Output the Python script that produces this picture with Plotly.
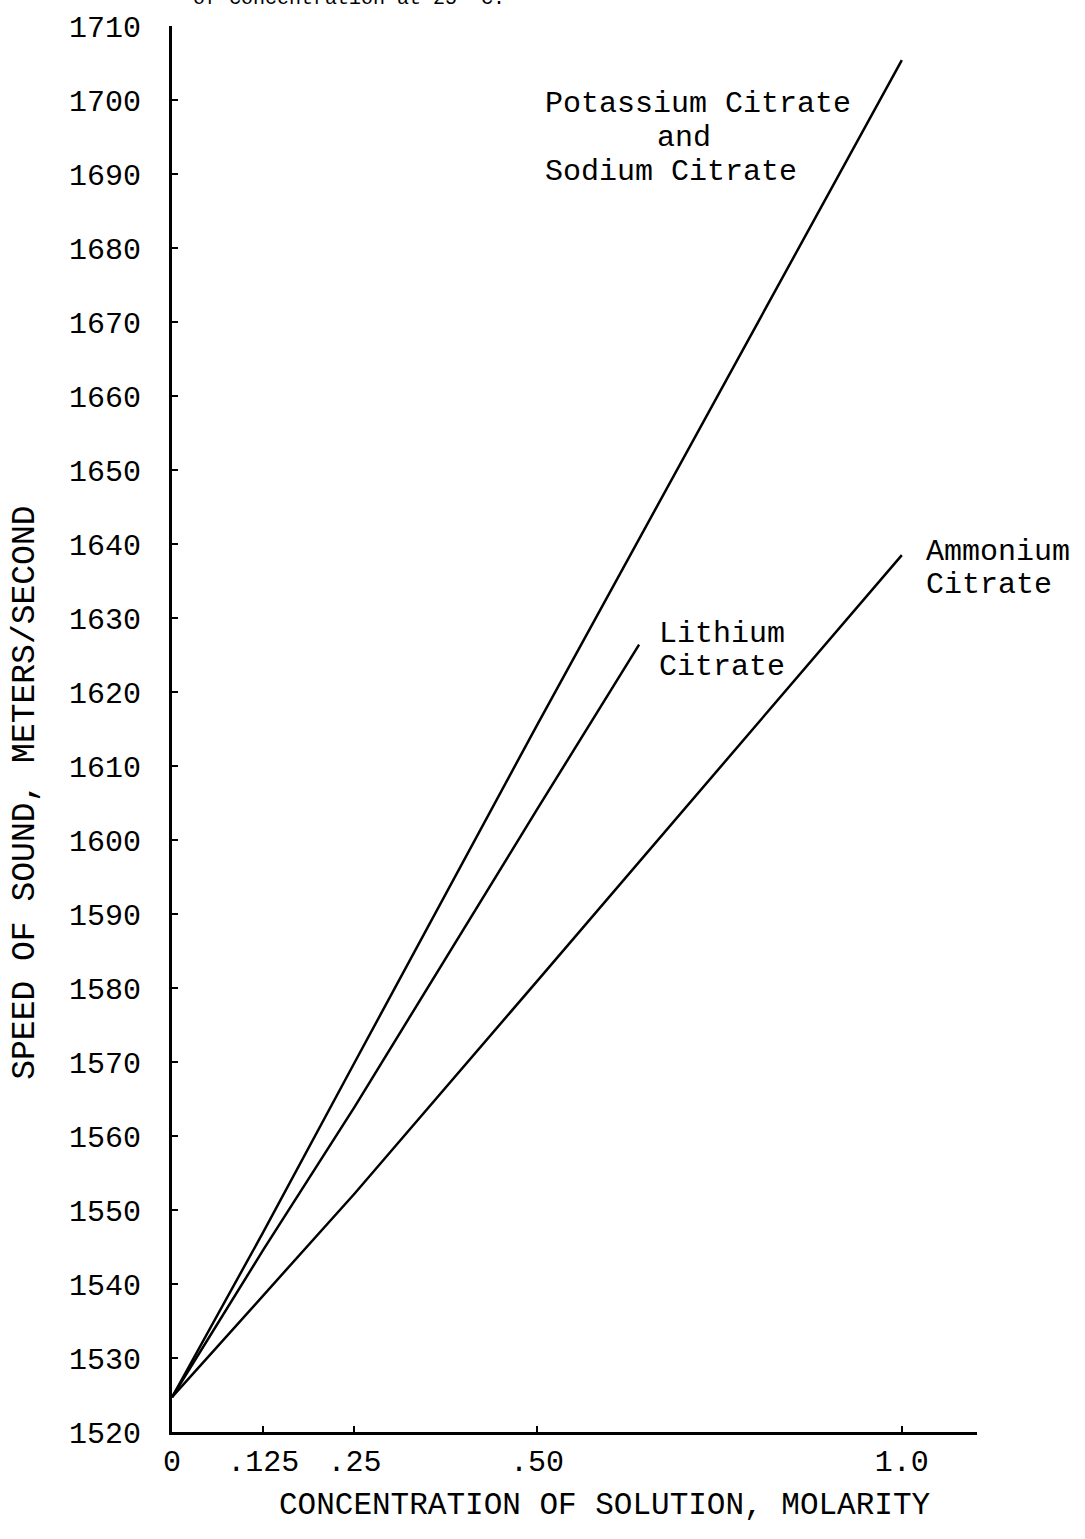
import plotly.graph_objects as go

# Measured concentrations (molarity) and speed of sound (m/s)
conc_k_na = [0, 0.125, 0.25, 0.50, 1.0]
speed_k_na = [1524.7, 1547.0, 1569.9, 1615.5, 1705.4]

conc_li = [0, 0.125, 0.25, 0.50, 0.64]
speed_li = [1524.7, 1544.6, 1563.9, 1604.1, 1626.4]

conc_nh4 = [0, 0.125, 0.25, 0.50, 1.0]
speed_nh4 = [1524.7, 1538.4, 1552.2, 1580.9, 1638.5]

x_tickvals = [0, 0.125, 0.25, 0.50, 1.0]
x_ticktext = ["0", ".125", ".25", ".50", "1.0"]
y_tickvals = list(range(1520, 1711, 10))

FONT = "Liberation Mono, Courier New, monospace"
line_style = dict(color="black", width=2.5)

fig = go.Figure()
for xs, ys, name in [
    (conc_k_na, speed_k_na, "Potassium Citrate and Sodium Citrate"),
    (conc_li, speed_li, "Lithium Citrate"),
    (conc_nh4, speed_nh4, "Ammonium Citrate"),
]:
    fig.add_trace(go.Scatter(x=xs, y=ys, mode="lines", line=line_style,
                             name=name, showlegend=False))

label_font = dict(family=FONT, size=30, color="black")
annotations = [
    dict(x=0.509, y=1699.4, text="Potassium Citrate", xanchor="left"),
    dict(x=0.701, y=1694.8, text="and", xanchor="center"),
    dict(x=0.509, y=1690.3, text="Sodium Citrate", xanchor="left"),
    dict(x=0.664, y=1627.9, text="Lithium", xanchor="left"),
    dict(x=0.664, y=1623.4, text="Citrate", xanchor="left"),
    dict(x=1.031, y=1638.9, text="Ammonium", xanchor="left"),
    dict(x=1.031, y=1634.4, text="Citrate", xanchor="left"),
]
for a in annotations:
    fig.add_annotation(xref="x", yref="y", showarrow=False, yanchor="middle",
                       font=label_font, **a)

# axis titles placed as free text
fig.add_annotation(xref="paper", yref="paper", x=-0.182, y=0.455,
                   xanchor="center", yanchor="middle", showarrow=False,
                   textangle=-90, text="SPEED OF SOUND, METERS/SECOND",
                   font=dict(family=FONT, size=33, color="black"))
fig.add_annotation(xref="paper", yref="paper", x=0.538, y=-0.052,
                   xanchor="center", yanchor="middle", showarrow=False,
                   text="CONCENTRATION OF SOLUTION, MOLARITY",
                   font=dict(family=FONT, size=31, color="black"))

# caption line running off the top edge of the page
fig.add_annotation(xref="paper", yref="paper", x=0.22, y=1.0, yshift=14,
                   xanchor="center", yanchor="bottom", showarrow=False,
                   text="of Concentration at 25° C.",
                   font=dict(family=FONT, size=20, color="black"))

fig.update_layout(
    width=1085, height=1539,
    margin=dict(l=172, r=108, t=26, b=107),
    paper_bgcolor="white", plot_bgcolor="white",
    font=dict(family=FONT, size=30, color="black"),
    xaxis=dict(
        range=[0, 1.103], tickvals=x_tickvals, ticktext=x_ticktext,
        showgrid=False, zeroline=False, showline=True, linecolor="black",
        linewidth=2.5, ticks="inside", ticklen=6, tickwidth=2, tickcolor="black",
        tickfont=dict(family=FONT, size=30),
    ),
    yaxis=dict(
        range=[1520, 1710], tickvals=y_tickvals,
        showgrid=False, zeroline=False, showline=True, linecolor="black",
        linewidth=3, ticks="inside", ticklen=6, tickwidth=2, tickcolor="black",
        tickfont=dict(family=FONT, size=30), ticklabelstandoff=22,
    ),
)

fig.write_html("out.html")
